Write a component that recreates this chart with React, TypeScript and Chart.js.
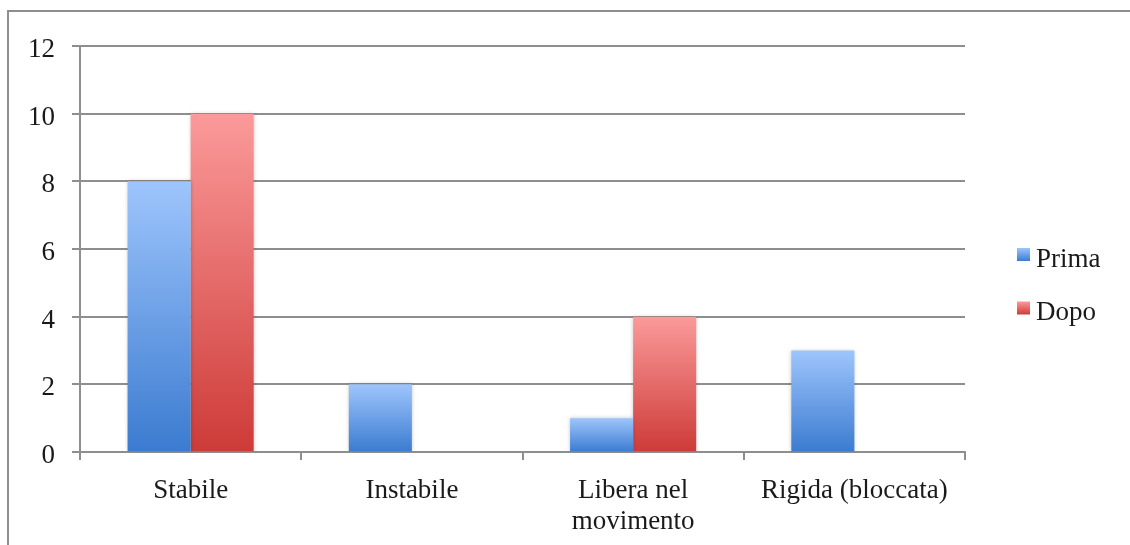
import React, { useEffect, useRef } from "react";
import { Chart, registerables } from "chart.js";

Chart.register(...registerables);

const categories: (string | string[])[] = [
  "Stabile",
  "Instabile",
  ["Libera nel", "movimento"],
  "Rigida (bloccata)",
];
const prima = [8, 2, 1, 3];
const dopo = [10, 0, 4, 0];
const yTicks = [0, 2, 4, 6, 8, 10, 12];

const FONT = "'Liberation Serif', 'Times New Roman', serif";
const GRID = "#8e8e8e";
const TEXT = "#1a1a1a";

const BLUE = { top: "#9ec5fc", bottom: "#3b7bd0" };
const RED = { top: "#fb9a9a", bottom: "#cd3b38" };

function barGradient(colors: { top: string; bottom: string }) {
  return (ctx: any) => {
    const chart = ctx.chart;
    const y = chart.scales?.y;
    if (!y || ctx.raw == null) return colors.bottom;
    const yTop = y.getPixelForValue(ctx.raw);
    const yBase = y.getPixelForValue(0);
    if (!isFinite(yTop) || !isFinite(yBase) || yTop === yBase) return colors.bottom;
    const g = chart.ctx.createLinearGradient(0, yTop, 0, yBase);
    g.addColorStop(0, colors.top);
    g.addColorStop(1, colors.bottom);
    return g;
  };
}

// soft drop shadow behind the bars
const barShadow = {
  id: "barShadow",
  beforeDatasetsDraw(chart: any) {
    const c = chart.ctx;
    c.save();
    c.shadowColor = "rgba(0,0,0,0.22)";
    c.shadowBlur = 4;
    c.shadowOffsetX = 0;
    c.shadowOffsetY = 0;
  },
  afterDatasetsDraw(chart: any) {
    chart.ctx.restore();
  },
};

// legend on the right, squares with the same gradient as the bars
const sideLegend = {
  id: "sideLegend",
  afterDraw(chart: any) {
    const c = chart.ctx;
    const items = [
      { label: chart.data.datasets[0].label, colors: BLUE, base: 266.5 },
      { label: chart.data.datasets[1].label, colors: RED, base: 320 },
    ];
    c.save();
    c.font = `27px ${FONT}`;
    c.textBaseline = "alphabetic";
    c.textAlign = "left";
    for (const it of items) {
      const x = 1017;
      const s = 13;
      const top = it.base - 18.5;
      const g = c.createLinearGradient(0, top, 0, top + s);
      g.addColorStop(0, it.colors.top);
      g.addColorStop(1, it.colors.bottom);
      c.fillStyle = g;
      c.fillRect(x, top, s, s);
      c.fillStyle = TEXT;
      c.fillText(it.label, 1036, it.base);
    }
    c.restore();
  },
};

export default function App() {
  const canvasRef = useRef<HTMLCanvasElement | null>(null);

  useEffect(() => {
    if (!canvasRef.current) return;
    const chart = new Chart(canvasRef.current, {
      type: "bar",
      data: {
        labels: categories,
        datasets: [
          {
            label: "Prima",
            data: prima,
            backgroundColor: barGradient(BLUE),
            borderWidth: 0,
            categoryPercentage: 0.57,
            barPercentage: 1,
          },
          {
            label: "Dopo",
            data: dopo,
            backgroundColor: barGradient(RED),
            borderWidth: 0,
            categoryPercentage: 0.57,
            barPercentage: 1,
          },
        ],
      },
      options: {
        animation: false,
        responsive: false,
        maintainAspectRatio: false,
        layout: { padding: { left: 0, right: 165, top: 46, bottom: 0 } },
        plugins: {
          legend: { display: false },
          tooltip: { enabled: false },
        },
        scales: {
          x: {
            grid: {
              drawOnChartArea: false,
              drawTicks: true,
              tickLength: 8,
              color: GRID,
              lineWidth: 2,
              offset: true,
            },
            border: { display: true, color: GRID, width: 2 },
            ticks: {
              color: TEXT,
              padding: 16,
              font: { family: FONT, size: 27, lineHeight: 1.13 },
              maxRotation: 0,
              autoSkip: false,
            },
            afterFit(scale: any) {
              scale.height = 93;
            },
          },
          y: {
            min: 0,
            max: 12,
            afterBuildTicks(scale: any) {
              scale.ticks = yTicks.map((v) => ({ value: v }));
            },
            grid: {
              drawOnChartArea: true,
              drawTicks: true,
              tickLength: 8,
              color: GRID,
              lineWidth: 2,
            },
            border: { display: true, color: GRID, width: 2 },
            ticks: {
              color: TEXT,
              padding: 17,
              labelOffset: 4,
              font: { family: FONT, size: 27 },
            },
            afterFit(scale: any) {
              scale.width = 80;
            },
          },
        },
      },
      plugins: [barShadow, sideLegend],
    });
    return () => chart.destroy();
  }, []);

  return (
    <div
      style={{
        position: "fixed",
        left: 0,
        top: 0,
        width: 1130,
        height: 545,
        background: "#ffffff",
        overflow: "hidden",
      }}
    >
      <div
        style={{
          position: "absolute",
          left: 7,
          top: 10,
          width: 1200,
          height: 600,
          borderLeft: `2px solid ${GRID}`,
          borderTop: `2px solid ${GRID}`,
        }}
      />
      <canvas
        ref={canvasRef}
        width={1130}
        height={545}
        style={{ position: "absolute", left: 0, top: 0, width: 1130, height: 545 }}
      />
    </div>
  );
}
